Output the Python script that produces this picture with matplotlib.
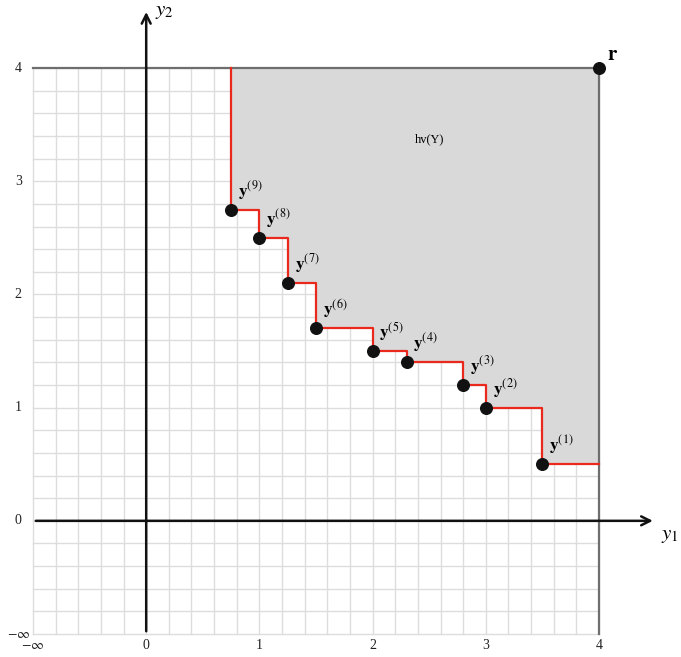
import matplotlib
matplotlib.use("Agg")
import matplotlib.pyplot as plt
import numpy as np

plt.rcParams['font.family'] = ['Liberation Serif', 'DejaVu Serif']
plt.rcParams['mathtext.fontset'] = 'stix'

# Pareto front points y(1)..y(9)
y1_vals = [3.5, 3.0, 2.8, 2.3, 2.0, 1.5, 1.25, 1.0, 0.75]
y2_vals = [0.5, 1.0, 1.2, 1.4, 1.5, 1.7, 2.1, 2.5, 2.75]
point_labels = [r'$\mathbf{y}^{(%d)}$' % (i + 1) for i in range(len(y1_vals))]
ref_point = (4.0, 4.0)
tick_vals = [-1, 0, 1, 2, 3, 4]
tick_labels = [r'$-\infty$', '0', '1', '2', '3', '4']

fig = plt.figure(figsize=(6.81, 6.57), dpi=100)
ax = fig.add_axes([0, 0, 1, 1])
ax.set_xlim(-1.2915, 4.724)
ax.set_ylim(-1.203, 4.601)
ax.axis('off')

# light grid
grid = np.arange(-1, 4.001, 0.2)
for g in grid:
    ax.plot([g, g], [-1, 4], color='#dddddd', lw=1, zorder=0)
    ax.plot([-1, 4], [g, g], color='#dddddd', lw=1, zorder=0)

# staircase (attainment boundary), sorted by y1
order = np.argsort(y1_vals)
xs = [y1_vals[i] for i in order]
ys = [y2_vals[i] for i in order]
sx = [xs[0]]
sy = [ref_point[1]]
for k in range(len(xs)):
    sx += [xs[k]]
    sy += [ys[k]]
    nx = xs[k + 1] if k + 1 < len(xs) else ref_point[0]
    sx += [nx]
    sy += [ys[k]]

# dominated region
ax.fill_between(sx, sy, ref_point[1], color='#d9d9d9', zorder=1, lw=0)
ax.plot(sx, sy, color='#e8291c', lw=1.6, zorder=3)

# reference box borders
ax.plot([-1, ref_point[0]], [ref_point[1], ref_point[1]], color='#6e6e6e', lw=1.6, zorder=2)
ax.plot([ref_point[0], ref_point[0]], [-1, ref_point[1]], color='#6e6e6e', lw=1.6, zorder=2)

# axes arrows
ax.annotate('', xy=(4.5, 0), xytext=(-1, 0),
            arrowprops=dict(arrowstyle='->', lw=1.8, color='#111111', mutation_scale=16), zorder=4)
ax.annotate('', xy=(0, 4.52), xytext=(0, -1),
            arrowprops=dict(arrowstyle='->', lw=1.8, color='#111111', mutation_scale=16), zorder=4)
ax.text(4.55, -0.13, r'$y_1$', fontsize=15, ha='left', va='center')
ax.text(0.08, 4.5, r'$y_2$', fontsize=15, ha='left', va='center')

# points
ax.scatter(y1_vals, y2_vals, s=70, color='#111111', zorder=5)
for x, y, lab in zip(y1_vals, y2_vals, point_labels):
    ax.text(x + 0.06, y + 0.07, lab, fontsize=12.5, ha='left', va='bottom', zorder=6)

ax.scatter([ref_point[0]], [ref_point[1]], s=70, color='#111111', zorder=5)
ax.text(ref_point[0] + 0.07, ref_point[1] + 0.03, r'$\mathbf{r}$', fontsize=15, ha='left', va='bottom')

ax.text(2.5, 3.37, 'hv(Y)', fontsize=9, ha='center', va='center')

# tick labels
for v, lab in zip(tick_vals, tick_labels):
    ax.text(v, -1.1, lab, fontsize=10, ha='center', va='center', color='#222222')
    ax.text(-1.13, v, lab, fontsize=10, ha='center', va='center', color='#222222')

fig.savefig('out.png', dpi=100)
